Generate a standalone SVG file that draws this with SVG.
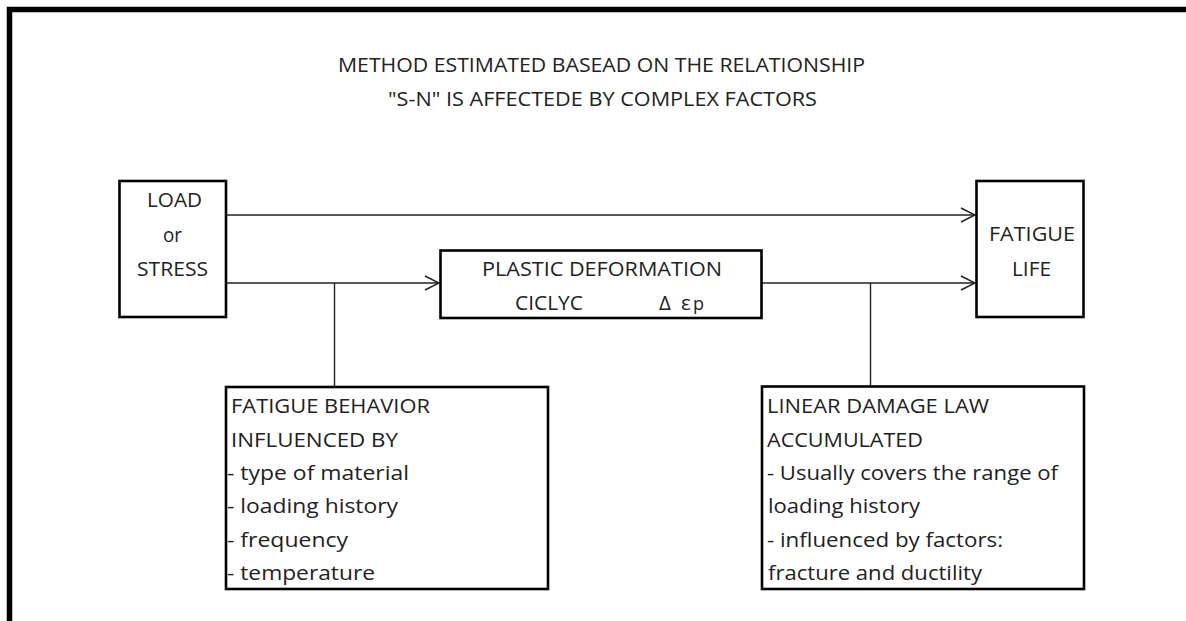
<svg xmlns="http://www.w3.org/2000/svg" width="1186" height="621" viewBox="0 0 1186 621">
<style>
.box{fill:#fff;stroke:#000;stroke-width:2.6}
.t{font-family:"Open Sans",Lato,"Liberation Sans",sans-serif;font-size:20.5px;fill:#222}
.ln{fill:none;stroke:#222;stroke-width:1.4}
</style>
<defs>
<marker id="arr" markerUnits="userSpaceOnUse" markerWidth="18" markerHeight="18" refX="15" refY="8" orient="auto">
<path d="M1,1 L15,8 L1,15" fill="none" stroke="#222" stroke-width="1.4"/>
</marker>
</defs>
<rect width="1186" height="621" fill="#fff"/>
<path d="M9.5,630 V9.5 H1200" fill="none" stroke="#000" stroke-width="5.5"/>
<g id="title">
<text class="t" x="338" y="72" textLength="527" lengthAdjust="spacingAndGlyphs">METHOD ESTIMATED BASEAD ON THE RELATIONSHIP</text>
<text class="t" x="388" y="106" textLength="429" lengthAdjust="spacingAndGlyphs">"S-N" IS AFFECTEDE BY COMPLEX FACTORS</text>
</g>
<g id="connectors">
<path class="ln" d="M226,215 H975" marker-end="url(#arr)"/>
<path class="ln" d="M226,283 H439" marker-end="url(#arr)"/>
<path class="ln" d="M762,283 H975" marker-end="url(#arr)"/>
<path class="ln" d="M334.5,283 V387"/>
<path class="ln" d="M870.5,283 V387"/>
</g>
<g id="load">
<rect class="box" x="119.5" y="181" width="106.5" height="136"/>
<text class="t" x="147" y="207" textLength="55" lengthAdjust="spacingAndGlyphs">LOAD</text>
<text class="t" x="163" y="242" textLength="19" lengthAdjust="spacingAndGlyphs">or</text>
<text class="t" x="137" y="276" textLength="71" lengthAdjust="spacingAndGlyphs">STRESS</text>
</g>
<g id="plastic">
<rect class="box" x="440.5" y="250.5" width="321" height="67.5"/>
<text class="t" x="482" y="276" textLength="240" lengthAdjust="spacingAndGlyphs">PLASTIC DEFORMATION</text>
<text class="t" x="515" y="310" textLength="68" lengthAdjust="spacingAndGlyphs">CICLYC</text>
<text class="t" x="659" y="310">Δ <tspan x="681">ε</tspan><tspan x="693" font-size="18">p</tspan></text>
</g>
<g id="fatigue">
<rect class="box" x="976.5" y="181" width="107" height="136"/>
<text class="t" x="989" y="241" textLength="86" lengthAdjust="spacingAndGlyphs">FATIGUE</text>
<text class="t" x="1012" y="276" textLength="39" lengthAdjust="spacingAndGlyphs">LIFE</text>
</g>
<g id="behavior">
<rect class="box" x="226" y="387" width="322" height="202"/>
<text class="t" x="231" y="413" textLength="199" lengthAdjust="spacingAndGlyphs">FATIGUE BEHAVIOR</text>
<text class="t" x="231" y="447" textLength="167" lengthAdjust="spacingAndGlyphs">INFLUENCED BY</text>
<text class="t" x="227" y="480" textLength="182" lengthAdjust="spacingAndGlyphs">- type of material</text>
<text class="t" x="227" y="513" textLength="171" lengthAdjust="spacingAndGlyphs">- loading history</text>
<text class="t" x="227" y="547" textLength="121" lengthAdjust="spacingAndGlyphs">- frequency</text>
<text class="t" x="227" y="580" textLength="148" lengthAdjust="spacingAndGlyphs">- temperature</text>
</g>
<g id="damage">
<rect class="box" x="762" y="386.5" width="322" height="202.5"/>
<text class="t" x="767" y="413" textLength="222" lengthAdjust="spacingAndGlyphs">LINEAR DAMAGE LAW</text>
<text class="t" x="767" y="447" textLength="156" lengthAdjust="spacingAndGlyphs">ACCUMULATED</text>
<text class="t" x="767" y="480" textLength="291" lengthAdjust="spacingAndGlyphs">- Usually covers the range of</text>
<text class="t" x="768" y="513" textLength="152" lengthAdjust="spacingAndGlyphs">loading history</text>
<text class="t" x="767" y="547" textLength="236" lengthAdjust="spacingAndGlyphs">- influenced by factors:</text>
<text class="t" x="768" y="580" textLength="214" lengthAdjust="spacingAndGlyphs">fracture and ductility</text>
</g>
</svg>
